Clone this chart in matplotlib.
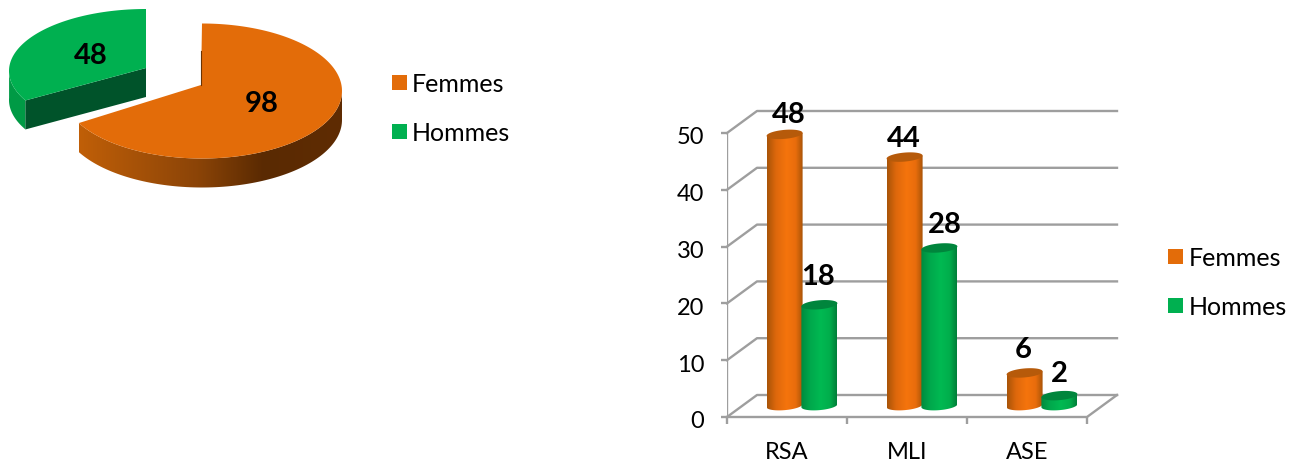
import numpy as np
import matplotlib
matplotlib.use("Agg")
import matplotlib.pyplot as plt
from matplotlib.colors import LinearSegmentedColormap
from matplotlib.lines import Line2D
from matplotlib.patches import Polygon
from matplotlib.transforms import ScaledTranslation

plt.rcParams["font.family"] = ["Lato", "DejaVu Sans"]

# Data
series_names = ["Femmes", "Hommes"]
pie_values = [98, 48]
categories = ["RSA", "MLI", "ASE"]
femmes = [48, 44, 6]
hommes = [18, 28, 2]
y_ticks = [0, 10, 20, 30, 40, 50]

# Colours
orange = "#E36C09"
green = "#00B050"
grey = "#9E9E9E"
orange_cmap = LinearSegmentedColormap.from_list(
    "o", [(0, "#A85408"), (0.25, "#DE680C"), (0.55, "#F5740D"), (0.8, "#E96D0C"), (1, "#A85408")]
)
green_cmap = LinearSegmentedColormap.from_list(
    "g", [(0, "#008A3E"), (0.25, "#00A84C"), (0.55, "#00B952"), (0.8, "#00AE4C"), (1, "#007F39")]
)
side_cmap = LinearSegmentedColormap.from_list(
    "s", [(0, "#C05F08"), (0.45, "#8B4407"), (0.7, "#5A2A02"), (1, "#5F2C03")]
)

W, H = 1290, 464
fig = plt.figure(figsize=(W / 100, H / 100), dpi=100)


# Point on the pie rim, angle in degrees clockwise from 12 o'clock
def rim(angle, cx, cy, a, b):
    t = np.radians(angle)
    return np.column_stack([cx + a * np.sin(t), cy - b * np.cos(t)])


def add_legend(x, y, pad):
    handles = [
        Line2D([], [], marker="s", ls="none", ms=10.8, mew=0, color=c) for c in (orange, green)
    ]
    fig.legend(
        handles, series_names, loc="center left", bbox_to_anchor=(x / W, 1 - y / H),
        frameon=False, fontsize=18, labelspacing=1.05, handlelength=0.7,
        handletextpad=pad, borderpad=0, borderaxespad=0,
    )


# Exploded pie, axes in pixel units
ax_pie = fig.add_axes([0, 1 - 200 / H, 360 / W, 200 / H])
split = pie_values[0] / sum(pie_values) * 360
depth = 29

# Hommes slice
g_rim = rim(np.linspace(split, 360, 80), 146, 72, 137, 62)
g_apex = np.array([146, 69])
g_out = rim(np.linspace(split, 272, 30), 146, 72, 137, 62)
ax_pie.add_patch(Polygon(np.vstack([g_out, (g_out + [0, depth])[::-1]]), fc="#009A45", ec="none"))
ax_pie.add_patch(
    Polygon([g_apex, g_rim[0], g_rim[0] + [0, depth], g_apex + [0, depth]], fc="#00532A", ec="none")
)
ax_pie.add_patch(Polygon(np.vstack([g_apex, g_rim]), fc=green, ec="none"))

# Femmes slice
o_rim = rim(np.linspace(0, split, 160), 202, 92, 140, 67.5)
o_apex = np.array([201, 86])
o_side = rim(np.linspace(90, split, 100), 202, 92, 140, 67.5)
side = Polygon(np.vstack([o_side, (o_side + [0, depth])[::-1]]), fc="none", ec="none")
ax_pie.add_patch(side)
img = ax_pie.imshow(
    np.linspace(0, 1, 256)[None, :], cmap=side_cmap, aspect="auto",
    extent=(o_side[:, 0].min(), o_side[:, 0].max(), 200, 0),
)
img.set_clip_path(side)
ax_pie.add_patch(Polygon(np.vstack([o_apex, o_rim]), fc=orange, ec="none"))
ax_pie.plot([201, 201], [52, 86], color="#6B3303", lw=0.8)
ax_pie.set_xlim(0, 360)
ax_pie.set_ylim(200, 0)
ax_pie.axis("off")
ax_pie.text(262, 104, str(pie_values[0]), fontsize=21, fontweight="bold", ha="center", va="center")
ax_pie.text(91, 56, str(pie_values[1]), fontsize=21, fontweight="bold", ha="center", va="center")
add_legend(390, 109, 0.15)

# 3D style bars, axes are the front plane of the box
ax = fig.add_axes([727 / W, 1 - 418 / H, 360 / W, 284 / H])
ax.set_xlim(0, 3)
ax.set_ylim(0, 50)
px_x = 3 / 360
px_y = 50 / 284
dx, dy = 30 * px_x, 22 * px_y

# Back wall, side wall and floor lines
for v in y_ticks:
    ax.plot([0, dx, 3 + dx], [v, v + dy, v + dy], color=grey, lw=1.7, clip_on=False, zorder=1)
ax.plot([0, 3, 3 + dx], [0, 0, dy], color=grey, lw=1.7, clip_on=False, zorder=1)
ax.plot([0, 0], [0, 50], color=grey, lw=1.7, zorder=1)


def cylinder(x, value, cmap, top_colour):
    a = 18 * px_x
    b = 4.5 * px_y
    tilt = 1.5 * px_y
    base = 2.0
    top = value + 1.76
    t = np.linspace(0, np.pi, 40)
    # lower half of the base ellipse, right to left
    lower = np.column_stack([x + a * np.cos(t), base - b * np.sin(t) + tilt * np.cos(t)])
    body_pts = np.vstack([[x + a, top + tilt], [x - a, top - tilt], lower[::-1]])
    body = Polygon(body_pts, fc="none", ec="none", zorder=3, clip_on=False)
    ax.add_patch(body)
    im = ax.imshow(
        np.linspace(0, 1, 128)[None, :], cmap=cmap, aspect="auto", zorder=3,
        extent=(x - a, x + a, base - b - tilt, top + tilt),
    )
    im.set_clip_path(body)
    s = np.linspace(0, 2 * np.pi, 60)
    ring = np.column_stack([x + a * np.cos(s), top + b * np.sin(s) + tilt * np.cos(s)])
    ax.add_patch(Polygon(ring, fc=top_colour, ec="none", zorder=3, clip_on=False))


# Small nudges for the value labels, in points
f_offsets = [(3, 15), (-0.5, 13.5), (-1, 17.5)]
h_offsets = [(-1, 21), (4, 17), (0, 16.5)]
for i, cat in enumerate(categories):
    xf = i + 0.48
    xh = i + 0.77
    cylinder(xf, femmes[i], orange_cmap, "#B65A0A")
    cylinder(xh, hommes[i], green_cmap, "#00853C")
    for x, v, off in ((xf, femmes[i], f_offsets[i]), (xh, hommes[i], h_offsets[i])):
        ax.annotate(
            str(v), (x, v + 1.76), xytext=off, textcoords="offset points",
            fontsize=21, fontweight="bold", ha="center", va="center", zorder=5,
            annotation_clip=False,
        )

ax.set_xlim(0, 3)
ax.set_ylim(0, 50)
ax.set_yticks(y_ticks)
ax.set_xticks([0, 1, 2, 3])
ax.set_xticklabels([])
ax.set_xticks([0.5, 1.5, 2.5], categories, minor=True)
ax.tick_params(axis="y", length=4.5, width=1.7, color=grey, labelsize=17, pad=12)
ax.tick_params(axis="x", which="major", length=5, width=1.7, color=grey)
ax.tick_params(axis="x", which="minor", length=0, labelsize=17, pad=17.5)
for lab in ax.get_yticklabels():
    lab.set_transform(lab.get_transform() + ScaledTranslation(0, -2 / 100, fig.dpi_scale_trans))
for s in ax.spines.values():
    s.set_visible(False)
ax.patch.set_visible(False)
add_legend(1166, 283, 0.22)

fig.savefig("out.png", dpi=100)
